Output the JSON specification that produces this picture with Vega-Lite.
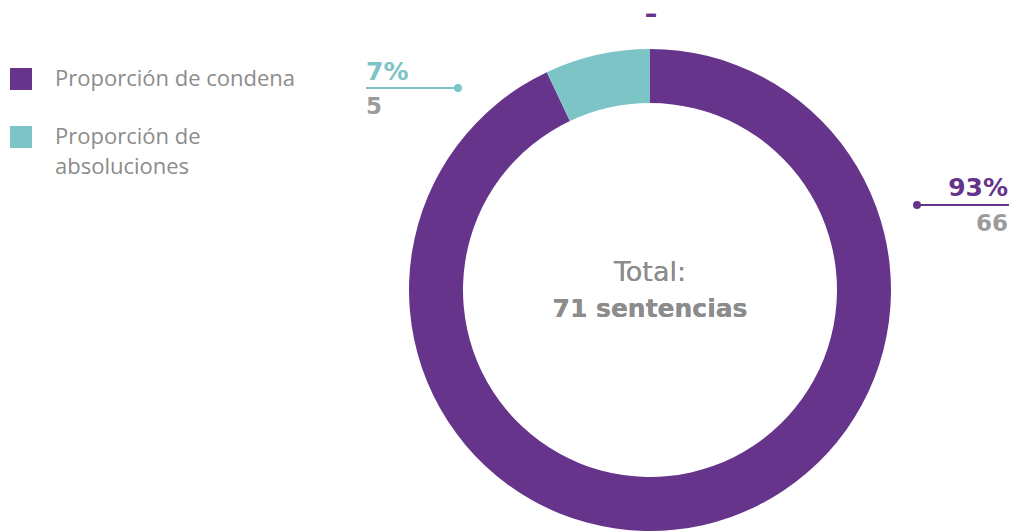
{
  "$schema": "https://vega.github.io/schema/vega-lite/v6.json",
  "autosize": "none",
  "width": 722,
  "height": 482,
  "padding": {"left": 289, "top": 49, "right": 0, "bottom": 0},
  "background": "white",
  "config": {
    "view": {"stroke": null},
    "font": "DejaVu Sans",
    "style": {"guide-label": {"lineHeight": 30}}
  },
  "data": {
    "values": [
      {"categoria": "Proporción de condena", "n": 66, "pct": "93%"},
      {"categoria": "Proporción de absoluciones", "n": 5, "pct": "7%"}
    ]
  },
  "layer": [
    {
      "mark": {"type": "arc", "outerRadius": 241, "innerRadius": 187},
      "encoding": {
        "theta": {"field": "n", "type": "quantitative", "stack": true},
        "order": {"field": "n", "type": "quantitative", "sort": "descending"},
        "color": {
          "field": "categoria",
          "type": "nominal",
          "scale": {
            "domain": ["Proporción de condena", "Proporción de absoluciones"],
            "range": ["#66348A", "#7DC4C6"]
          },
          "legend": {
            "orient": "none",
            "legendX": -279,
            "legendY": 19,
            "title": null,
            "symbolType": "square",
            "symbolSize": 484,
            "symbolStrokeWidth": 0,
            "symbolOpacity": 1,
            "labelFont": "Open Sans",
            "labelFontSize": 22,
            "labelColor": "#8c8c8c",
            "labelOffset": 23,
            "labelLimit": 300,
            "rowPadding": 36,
            "labelExpr": "datum.label == 'Proporción de absoluciones' ? ['Proporción de', 'absoluciones'] : datum.label"
          }
        }
      }
    },
    {
      "mark": {"type": "text", "fontSize": 27, "color": "#8c8c8c", "baseline": "middle", "align": "center"},
      "encoding": {"text": {"value": "Total:"}, "x": {"value": 361}, "y": {"value": 224}}
    },
    {
      "mark": {"type": "text", "fontSize": 25, "fontWeight": "bold", "color": "#8c8c8c", "baseline": "middle", "align": "center"},
      "encoding": {"text": {"value": "71 sentencias"}, "x": {"value": 361}, "y": {"value": 260}}
    },
    {
      "mark": {"type": "text", "fontSize": 24, "fontWeight": "bold", "color": "#66348A", "baseline": "alphabetic", "align": "center"},
      "encoding": {"text": {"value": "–"}, "x": {"value": 362}, "y": {"value": -27}}
    },
    {
      "transform": [{"filter": "datum.categoria == 'Proporción de condena'"}],
      "layer": [
        {
          "mark": {"type": "rule", "color": "#66348A", "strokeWidth": 2},
          "encoding": {"x": {"value": 628}, "x2": {"value": 720}, "y": {"value": 156}}
        },
        {
          "mark": {"type": "point", "filled": true, "color": "#66348A", "size": 64, "opacity": 1},
          "encoding": {"x": {"value": 628}, "y": {"value": 156}}
        },
        {
          "mark": {"type": "text", "fontSize": 25, "fontWeight": "bold", "color": "#66348A", "baseline": "middle", "align": "right"},
          "encoding": {"text": {"field": "pct"}, "x": {"value": 719}, "y": {"value": 139}}
        },
        {
          "mark": {"type": "text", "fontSize": 23, "fontWeight": "bold", "color": "#9b9b9b", "baseline": "middle", "align": "right"},
          "encoding": {"text": {"field": "n", "type": "quantitative"}, "x": {"value": 719}, "y": {"value": 175}}
        }
      ]
    },
    {
      "transform": [{"filter": "datum.categoria == 'Proporción de absoluciones'"}],
      "layer": [
        {
          "mark": {"type": "rule", "color": "#7DC4C6", "strokeWidth": 2},
          "encoding": {"x": {"value": 77}, "x2": {"value": 169}, "y": {"value": 39}}
        },
        {
          "mark": {"type": "point", "filled": true, "color": "#7DC4C6", "size": 64, "opacity": 1},
          "encoding": {"x": {"value": 169}, "y": {"value": 39}}
        },
        {
          "mark": {"type": "text", "fontSize": 25, "fontWeight": "bold", "color": "#7DC4C6", "baseline": "middle", "align": "left"},
          "encoding": {"text": {"field": "pct"}, "x": {"value": 77}, "y": {"value": 23}}
        },
        {
          "mark": {"type": "text", "fontSize": 23, "fontWeight": "bold", "color": "#9b9b9b", "baseline": "middle", "align": "left"},
          "encoding": {"text": {"field": "n", "type": "quantitative"}, "x": {"value": 77}, "y": {"value": 58}}
        }
      ]
    }
  ]
}
